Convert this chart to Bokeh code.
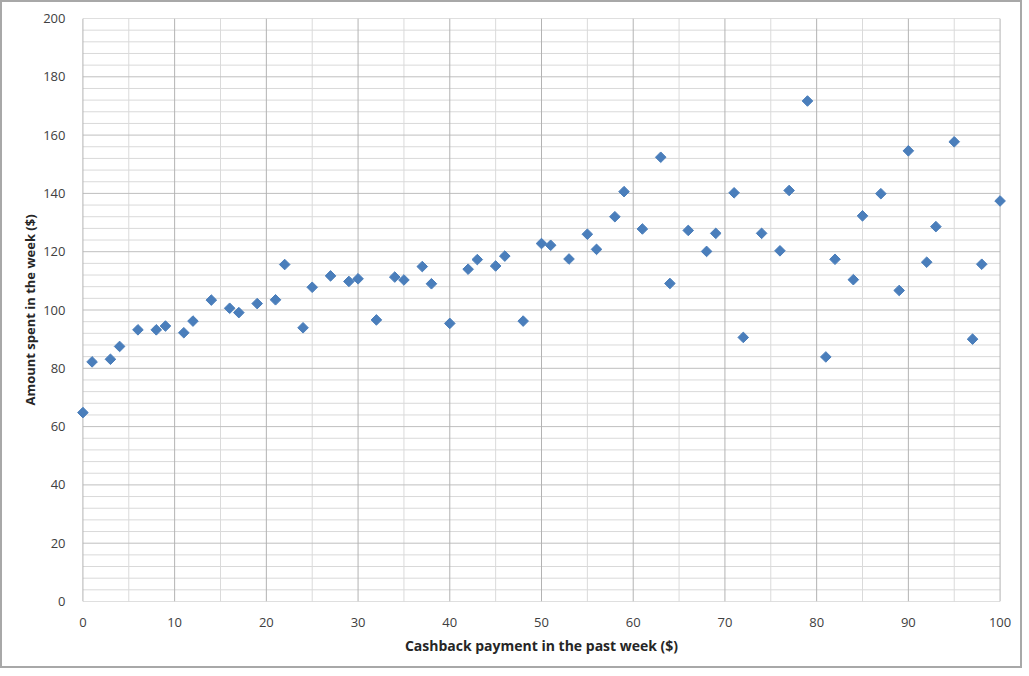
import numpy as np
from bokeh.plotting import figure
from bokeh.models import FixedTicker, ColumnDataSource
from bokeh.embed import file_html
from bokeh.resources import INLINE

cashback = [0, 1, 3, 4, 6, 8, 9, 11, 12, 14, 16, 17, 19, 21, 22, 24, 25, 27, 29, 30,
            32, 34, 35, 37, 38, 40, 42, 43, 45, 46, 48, 50, 51, 53, 55, 56, 58, 59, 61, 63,
            64, 66, 68, 69, 71, 72, 74, 76, 77, 79, 81, 82, 84, 85, 87, 89, 90, 92, 93, 95,
            97, 98, 100]
spent = [64.8, 82.2, 83.1, 87.5, 93.2, 93.2, 94.5, 92.2, 96.2, 103.4, 100.6, 99.1, 102.2, 103.5, 115.6, 93.9, 107.8, 111.7, 109.8, 110.7,
         96.6, 111.3, 110.3, 114.9, 109.0, 95.4, 114.0, 117.3, 115.1, 118.5, 96.2, 122.8, 122.2, 117.5, 126.0, 120.8, 132.0, 140.6, 127.8, 152.4,
         109.1, 127.3, 120.1, 126.3, 140.2, 90.6, 126.3, 120.3, 141.0, 171.7, 83.9, 117.4, 110.4, 132.3, 139.9, 106.7, 154.6, 116.4, 128.6, 157.7,
         90.0, 115.7, 137.4]

x_ticks = list(range(0, 101, 10))
x_minor = list(range(5, 100, 10))
y_ticks = list(range(0, 201, 20))
y_minor = [v for v in range(0, 201, 4) if v % 20 != 0]
x_min, x_max, y_min, y_max = 0, 100, 0, 200

src = ColumnDataSource(dict(x=cashback, y=spent))

p = figure(width=1022, height=668, output_backend="svg", toolbar_location=None,
           x_range=(-0.7, 100.7), y_range=(0, 200),
           min_border_left=74, min_border_right=18, min_border_top=16, min_border_bottom=69,
           styles={"border": "2px solid #a8a8a8"})
p.outline_line_color = None
p.background_fill_color = "white"
p.xgrid.grid_line_color = None
p.ygrid.grid_line_color = None

p.xaxis.ticker = FixedTicker(ticks=x_ticks, minor_ticks=x_minor)
p.yaxis.ticker = FixedTicker(ticks=y_ticks, minor_ticks=y_minor)

# gridlines limited to the data area (so edge markers are not clipped)
p.segment(x0=[x_min] * len(y_minor), x1=[x_max] * len(y_minor), y0=y_minor, y1=y_minor,
          line_color="#d9d9d9", line_width=1)
p.segment(x0=x_minor, x1=x_minor, y0=[y_min] * len(x_minor), y1=[y_max] * len(x_minor),
          line_color="#dadada", line_width=1)
p.segment(x0=[x_min] * len(y_ticks), x1=[x_max] * len(y_ticks), y0=y_ticks, y1=y_ticks,
          line_color="#bfbfbf", line_width=1)
p.segment(x0=x_ticks, x1=x_ticks, y0=[y_min] * len(x_ticks), y1=[y_max] * len(x_ticks),
          line_color="#b3b3b3", line_width=1)

for ax in (p.xaxis, p.yaxis):
    ax.axis_line_color = None
    ax.major_tick_line_color = None
    ax.minor_tick_line_color = None
    ax.major_label_text_font = "Open Sans"
    ax.major_label_text_font_size = "13px"
    ax.major_label_text_color = "#404040"
    ax.axis_label_text_font = "Open Sans"
    ax.axis_label_text_font_style = "bold"
    ax.axis_label_text_color = "#262626"

p.xaxis.axis_label_text_font_size = "14px"
p.yaxis.axis_label_text_font_size = "13px"
p.xaxis.axis_label = "Cashback payment in the past week ($)"
p.yaxis.axis_label = "Amount spent in the week ($)"
p.xaxis.major_label_standoff = 10
p.yaxis.major_label_standoff = 5
p.xaxis.axis_label_standoff = 6
p.yaxis.axis_label_standoff = 1

p.scatter("x", "y", source=src, marker="square", angle=np.pi / 4, size=7.5,
          fill_color="#4a7ebb", line_color="#4a7ebb")

open("out.html", "w").write(file_html(p, INLINE))
